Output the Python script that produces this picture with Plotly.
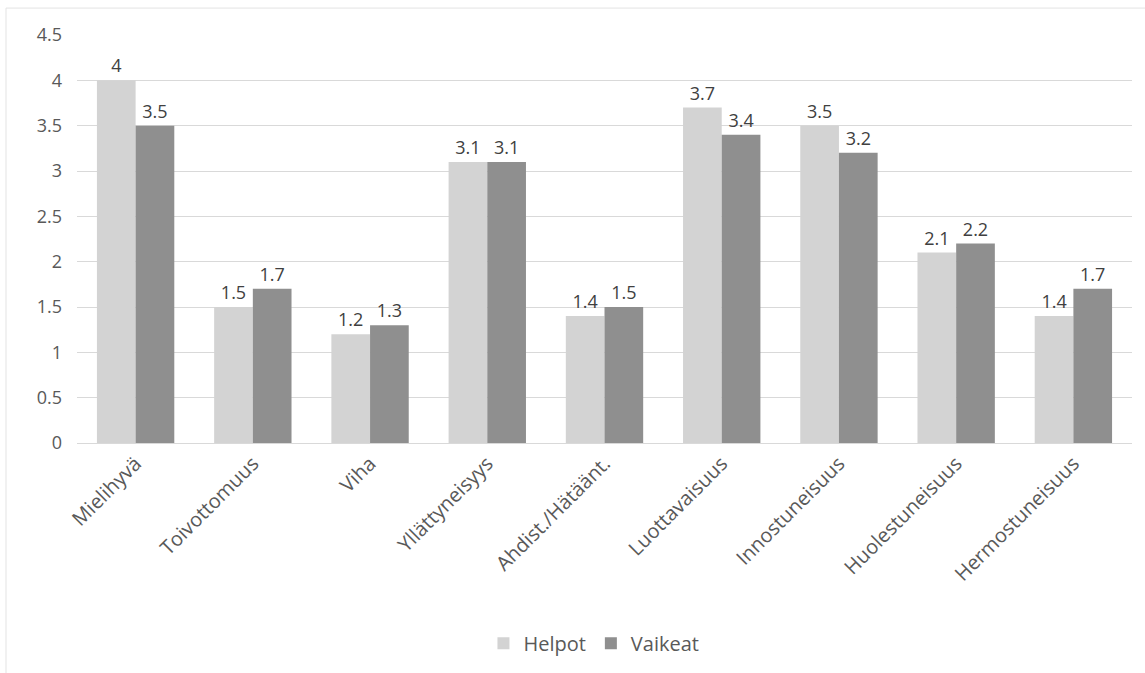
import plotly.graph_objects as go

categories = ["Mielihyvä", "Toivottomuus", "Viha", "Yllättyneisyys", "Ahdist./Hätäänt.",
              "Luottavaisuus", "Innostuneisuus", "Huolestuneisuus", "Hermostuneisuus"]
helpot = [4, 1.5, 1.2, 3.1, 1.4, 3.7, 3.5, 2.1, 1.4]
vaikeat = [3.5, 1.7, 1.3, 3.1, 1.5, 3.4, 3.2, 2.2, 1.7]
y_ticks = [0, 0.5, 1, 1.5, 2, 2.5, 3, 3.5, 4, 4.5]

font_family = "Open Sans, Noto Sans, sans-serif"
text_color = "#595959"

fig = go.Figure()
fig.add_trace(go.Bar(
    name="Helpot", x=categories, y=helpot, marker=dict(color="#d3d3d3", line=dict(width=0)),
    text=[str(v) for v in helpot], textposition="outside", cliponaxis=False,
    textfont=dict(size=18, color="#404040", family=font_family)))
fig.add_trace(go.Bar(
    name="Vaikeat", x=categories, y=vaikeat, marker=dict(color="#8f8f8f", line=dict(width=0)),
    text=[str(v) for v in vaikeat], textposition="outside", cliponaxis=False,
    textfont=dict(size=18, color="#404040", family=font_family)))

fig.update_layout(
    width=1145, height=673,
    margin=dict(l=77, r=13, t=35, b=229),
    paper_bgcolor="white", plot_bgcolor="white",
    barmode="group", bargap=0.34, bargroupgap=0,
    font=dict(family=font_family, color=text_color, size=18),
    uniformtext=dict(mode=False),
    legend=dict(orientation="h", x=0.49, xanchor="center", y=-0.487, yanchor="middle",
                font=dict(size=20, color=text_color), itemwidth=30, traceorder="normal"),
    xaxis=dict(tickangle=-45, tickfont=dict(size=20, color=text_color), showgrid=False,
               showline=True, linecolor="#d9d9d9", linewidth=1, ticks=""),
    yaxis=dict(range=[0, 4.5], tickvals=y_ticks, ticktext=[f"{v:g}" for v in y_ticks],
               showgrid=True, gridcolor="#d9d9d9", gridwidth=1, zeroline=False,
               tickfont=dict(size=18, color=text_color), ticklabelstandoff=14, showline=False),
    shapes=[
        dict(type="line", xref="paper", yref="paper", x0=-71/1055, x1=1.2, y0=(444-8)/409, y1=(444-8)/409,
             line=dict(color="#e3e3e3", width=1)),
        dict(type="line", xref="paper", yref="paper", x0=-71/1055, x1=-71/1055, y0=(444-8)/409, y1=-0.6,
             line=dict(color="#e3e3e3", width=1)),
    ],
)

fig.write_html("out.html")
